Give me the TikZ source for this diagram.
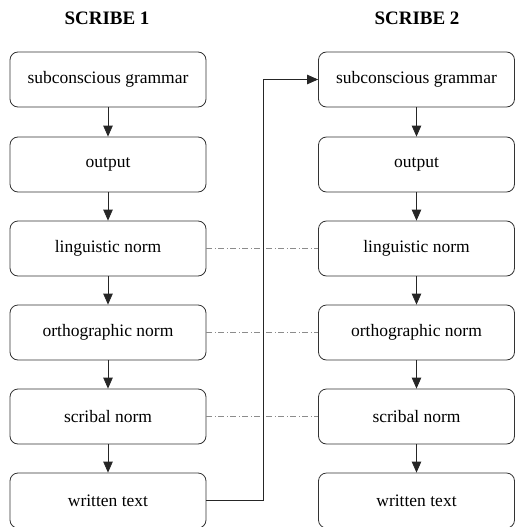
\documentclass[tikz,border=0pt]{standalone}
\usepackage{fontspec}
\setmainfont{Liberation Serif}
\usepackage{tikz}
\usetikzlibrary{arrows.meta, positioning}

\begin{document}
\begin{tikzpicture}[x=1pt, y=-1pt, >={Triangle[length=11pt, width=9.5pt]}]

\tikzset{
    stagebox/.style={rectangle, rounded corners=8pt, minimum width=196pt, minimum height=55pt,
                     text centered, font=\fontsize{17.5}{20}\selectfont, line width=0.8pt, draw=black!80},
    scribehead/.style={font=\fontsize{19}{22}\selectfont\bfseries},
    flow/.style={->, line width=0.8pt, color=black!85},
    normlink/.style={line width=0.6pt, color=black!45, dash pattern=on 6pt off 2.5pt on 1pt off 2.5pt}
}

\useasboundingbox (0,0) rectangle (514,527);

% -- headings --
\node[scribehead] (H1) at (107, 18)   {SCRIBE 1};
\node[scribehead] (H2) at (417, 18) {SCRIBE 2};

% -- scribe 1 --
\node[stagebox] (L1) at (108, 79.5)  {subconscious grammar};
\node[stagebox] (L2) at (108, 164.5) {output};
\node[stagebox] (L3) at (108, 248.5) {linguistic norm};
\node[stagebox] (L4) at (108, 332.5) {orthographic norm};
\node[stagebox] (L5) at (108, 416.5) {scribal norm};
\node[stagebox] (L6) at (108, 500.5) {written text};

\draw[flow] (L1) -- (L2);
\draw[flow] (L2) -- (L3);
\draw[flow] (L3) -- (L4);
\draw[flow] (L4) -- (L5);
\draw[flow] (L5) -- (L6);

% -- scribe 2 --
\node[stagebox] (R1) at (416.5, 79.5)  {subconscious grammar};
\node[stagebox] (R2) at (416.5, 164.5) {output};
\node[stagebox] (R3) at (416.5, 248.5) {linguistic norm};
\node[stagebox] (R4) at (416.5, 332.5) {orthographic norm};
\node[stagebox] (R5) at (416.5, 416.5) {scribal norm};
\node[stagebox] (R6) at (416.5, 500.5) {written text};

\draw[flow] (R1) -- (R2);
\draw[flow] (R2) -- (R3);
\draw[flow] (R3) -- (R4);
\draw[flow] (R4) -- (R5);
\draw[flow] (R5) -- (R6);

% -- links between scribes --
\draw[normlink] (L3.east) -- (R3.west);
\draw[normlink] (L4.east) -- (R4.west);
\draw[normlink] (L5.east) -- (R5.west);

\draw[flow] (L6.east) -- ++(57,0) |- (R1.west);

\end{tikzpicture}
\end{document}
